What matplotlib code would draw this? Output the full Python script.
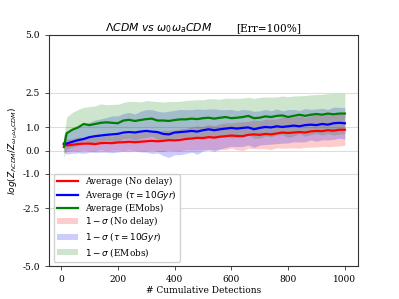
import numpy as np
import matplotlib
matplotlib.use('Agg')
import matplotlib.pyplot as plt

# --- data (every 20 detections) ---
n_det = [10] + list(range(20, 1001, 20))

avg_nodelay = [0.28, 0.22, 0.25, 0.28, 0.30, 0.30, 0.28, 0.32, 0.33, 0.32, 0.35,
               0.36, 0.38, 0.36, 0.38, 0.40, 0.42, 0.40, 0.42, 0.45, 0.44,
               0.46, 0.50, 0.52, 0.55, 0.54, 0.58, 0.56, 0.60, 0.62, 0.65,
               0.63, 0.62, 0.68, 0.70, 0.68, 0.72, 0.70, 0.74, 0.78, 0.76,
               0.78, 0.80, 0.78, 0.83, 0.85, 0.84, 0.88, 0.86, 0.90, 0.90]
avg_tau10 = [0.30, 0.30, 0.38, 0.45, 0.50, 0.58, 0.62, 0.65, 0.68, 0.70, 0.72,
             0.78, 0.80, 0.78, 0.82, 0.85, 0.82, 0.80, 0.72, 0.70, 0.78,
             0.80, 0.82, 0.85, 0.82, 0.88, 0.92, 0.88, 0.92, 0.95, 0.98,
             0.95, 0.98, 1.00, 0.92, 0.98, 1.02, 1.00, 1.05, 1.02, 1.05,
             1.08, 1.05, 1.10, 1.12, 1.10, 1.15, 1.12, 1.18, 1.20, 1.18]
avg_emobs = [0.15, 0.75, 0.90, 1.00, 1.15, 1.10, 1.15, 1.20, 1.22, 1.20, 1.18,
             1.30, 1.33, 1.28, 1.32, 1.36, 1.38, 1.30, 1.30, 1.28, 1.32,
             1.35, 1.35, 1.38, 1.36, 1.40, 1.42, 1.38, 1.42, 1.45, 1.40,
             1.42, 1.45, 1.50, 1.40, 1.42, 1.48, 1.45, 1.50, 1.52, 1.45,
             1.50, 1.55, 1.50, 1.55, 1.58, 1.55, 1.60, 1.57, 1.60, 1.60]

sig_nodelay = [0.30, 0.28, 0.26, 0.30, 0.28, 0.32, 0.30, 0.28, 0.34, 0.30, 0.33,
               0.36, 0.34, 0.38, 0.40, 0.42, 0.40, 0.44, 0.46, 0.43, 0.45,
               0.48, 0.46, 0.50, 0.52, 0.50, 0.55, 0.52, 0.56, 0.58, 0.55,
               0.60, 0.62, 0.58, 0.62, 0.60, 0.64, 0.66, 0.62, 0.68, 0.65,
               0.66, 0.70, 0.64, 0.68, 0.70, 0.66, 0.72, 0.68, 0.70, 0.68]
sig_tau10 = [0.38, 0.45, 0.50, 0.55, 0.62, 0.65, 0.70, 0.72, 0.75, 0.80, 0.78,
             0.82, 0.85, 0.80, 0.88, 0.92, 0.95, 0.90, 0.94, 1.00, 0.96,
             0.98, 0.95, 0.92, 0.98, 0.90, 0.88, 0.92, 0.85, 0.82, 0.80,
             0.78, 0.80, 0.76, 0.78, 0.74, 0.76, 0.72, 0.75, 0.70, 0.72,
             0.70, 0.68, 0.72, 0.66, 0.70, 0.68, 0.66, 0.70, 0.67, 0.68]
sig_emobs = [0.45, 0.70, 0.75, 0.78, 0.72, 0.80, 0.78, 0.82, 0.76, 0.80, 0.82,
             0.78, 0.80, 0.84, 0.78, 0.80, 0.76, 0.82, 0.80, 0.84, 0.80,
             0.78, 0.82, 0.80, 0.84, 0.80, 0.82, 0.86, 0.80, 0.82, 0.86,
             0.84, 0.82, 0.80, 0.86, 0.88, 0.84, 0.86, 0.82, 0.84, 0.88,
             0.86, 0.82, 0.88, 0.86, 0.84, 0.88, 0.86, 0.90, 0.88, 0.87]

y_ticks = [-5.0, -2.5, -1.0, 0.0, 1.0, 2.5, 5.0]

series = [
    (avg_nodelay, sig_nodelay, 'red', 'Average (No delay)', r'$1-\sigma$ (No delay)'),
    (avg_tau10, sig_tau10, 'blue', r'Average ($\tau=10Gyr$)', r'$1-\sigma$ ($\tau=10Gyr$)'),
    (avg_emobs, sig_emobs, 'green', 'Average (EMobs)', r'$1-\sigma$ (EMobs)'),
]

plt.rcParams['font.family'] = 'DejaVu Serif'
plt.rcParams['mathtext.fontset'] = 'dejavusans'

fig = plt.figure(figsize=(3.99, 2.99), dpi=100)
ax = fig.add_axes([0.123, 0.110, 0.774, 0.773])

x = np.array(n_det)
lines, bands = [], []
for avg, sig, col, lab_avg, lab_sig in series:
    l, = ax.plot(x, np.array(avg), color=col, lw=1.6, label=lab_avg)
    lines.append(l)
for avg, sig, col, lab_avg, lab_sig in series:
    avg = np.array(avg); sig = np.array(sig)
    b = ax.fill_between(x, avg - sig, avg + sig, color=col, alpha=0.2, lw=0, label=lab_sig)
    bands.append(b)

ax.set_ylim(-5, 5)
ax.set_xlim(-42, 1046)
ax.set_yticks(y_ticks)
ax.set_yticklabels(['%.1f' % t for t in y_ticks])
ax.yaxis.grid(True, color='#dddddd', lw=0.8)
ax.set_axisbelow(True)
ax.tick_params(labelsize=6.5, length=3, width=0.6, color='#333333')
for s in ax.spines.values():
    s.set_color('#333333')

ax.set_xlabel('# Cumulative Detections', fontsize=6.5, labelpad=1)
ax.set_ylabel(r'$log(Z_{\Lambda CDM}/Z_{\omega_0\omega_a CDM})$', fontsize=6.5, labelpad=2)

# title in two parts: italic math part and serif bracket part
fig.text(0.398, 0.897, r'$\Lambda CDM$ $vs$ $\omega_0\omega_a CDM$', fontsize=7.8,
         ha='center', va='baseline')
fig.text(0.672, 0.897, '[Err=100%]', fontsize=7.6, ha='center', va='baseline')

ax.legend(handles=lines + bands, loc='lower left', fontsize=6.4, framealpha=0.9,
          handlelength=2.4, borderpad=0.35, labelspacing=0.18, handletextpad=0.8,
          borderaxespad=0.5)

plt.savefig('out.png', dpi=100)
